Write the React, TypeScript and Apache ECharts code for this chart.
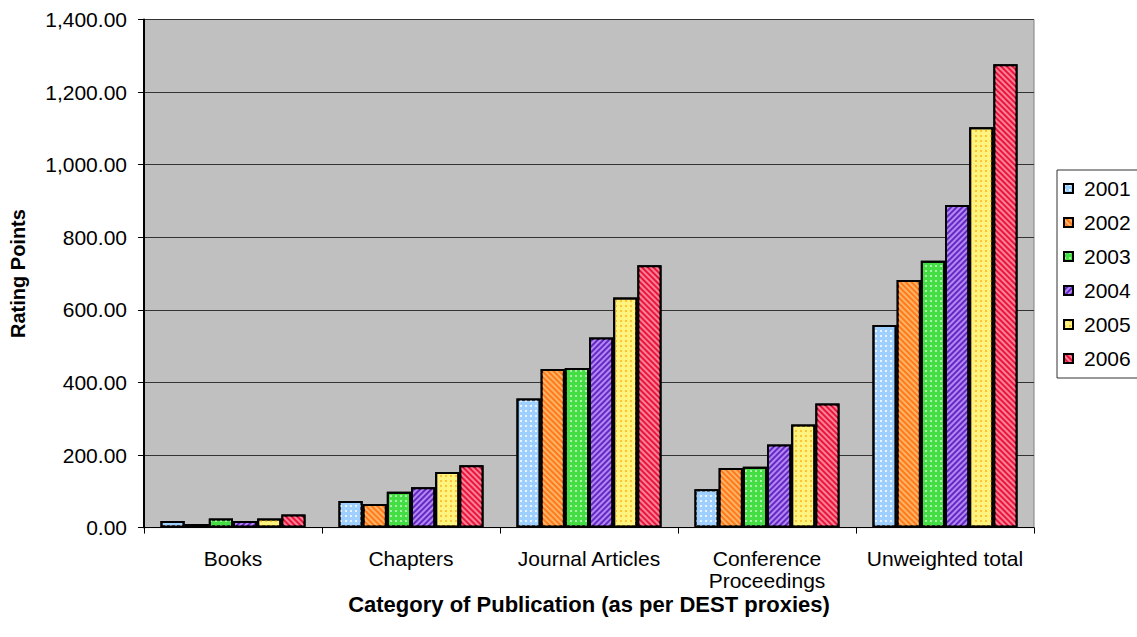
import React, { useEffect, useRef } from "react";
import * as echarts from "echarts";

const categories = ["Books", "Chapters", "Journal Articles", "Conference\nProceedings", "Unweighted total"];
const years = ["2001", "2002", "2003", "2004", "2005", "2006"];

const v2001 = [18, 73, 356, 106, 558];
const v2002 = [10, 65, 437, 164, 682];
const v2003 = [25, 99, 440, 168, 735];
const v2004 = [18, 111, 524, 229, 889];
const v2005 = [25, 153, 634, 284, 1103];
const v2006 = [36, 172, 723, 342, 1277];

const yTicks = { min: 0, max: 1400, interval: 200 };

const FONT = "'Liberation Sans', Arial, sans-serif";

const dots = (color: string) => ({
  symbol: "rect",
  symbolSize: 1,
  color,
  dashArrayX: [2, 3],
  dashArrayY: [2, 3],
});

const stripes = (color: string, rotation: number) => ({
  symbol: "rect",
  symbolSize: 1,
  color,
  dashArrayX: [1, 0],
  dashArrayY: [2, 2],
  rotation,
});

const styles = [
  { color: "#9FCFFF", decal: dots("#E8F4FF") },
  { color: "#FF7A1A", decal: stripes("#FFB366", Math.PI / 4) },
  { color: "#44DD44", decal: dots("#A8F0A8") },
  { color: "#6429C4", decal: stripes("#B488F2", -Math.PI / 4) },
  { color: "#FFF380", decal: dots("#FFC232") },
  { color: "#E8163A", decal: stripes("#FF8099", Math.PI / 4) },
];

const seriesValues = [v2001, v2002, v2003, v2004, v2005, v2006];

export default function App() {
  const ref = useRef<HTMLDivElement>(null);

  useEffect(() => {
    if (!ref.current) return;
    const chart = echarts.init(ref.current, undefined, { renderer: "svg" });
    chart.setOption({
      animation: false,
      backgroundColor: "#FFFFFF",
      textStyle: { fontFamily: FONT },
      grid: {
        left: 144,
        top: 19.5,
        right: 103,
        bottom: 109.4,
        show: true,
        backgroundColor: "#C0C0C0",
        borderColor: "#808080",
        borderWidth: 1,
      },
      legend: {
        orient: "vertical",
        left: 1057,
        top: 170,
        data: years,
        icon: "rect",
        itemWidth: 9,
        itemHeight: 9,
        itemGap: 13,
        padding: [8, 7, 9, 6],
        borderColor: "#333",
        borderWidth: 1,
        backgroundColor: "#FFFFFF",
        textStyle: { fontFamily: FONT, fontSize: 21, color: "#000", lineHeight: 21, padding: [0, 0, 0, 6] },
      },
      xAxis: {
        type: "category",
        data: categories,
        axisLine: { lineStyle: { color: "#000", width: 1 } },
        axisTick: { show: true, length: 6, lineStyle: { color: "#000" } },
        axisLabel: { color: "#000", fontSize: 21, fontFamily: FONT, margin: 20, lineHeight: 22, interval: 0 },
        name: "Category of Publication (as per DEST proxies)",
        nameLocation: "middle",
        nameGap: 66,
        nameMoveOverlap: false,
        nameTextStyle: { color: "#000", fontSize: 22, fontWeight: "bold", fontFamily: FONT },
      },
      yAxis: {
        type: "value",
        min: yTicks.min,
        max: yTicks.max,
        interval: yTicks.interval,
        axisLine: { show: true, lineStyle: { color: "#000", width: 2 } },
        axisTick: { show: true, length: 6, lineStyle: { color: "#000" } },
        axisLabel: {
          color: "#000",
          fontSize: 21,
          fontFamily: FONT,
          margin: 17,
          formatter: (v: number) => v.toLocaleString("en-US", { minimumFractionDigits: 2, maximumFractionDigits: 2 }),
        },
        splitLine: { show: true, lineStyle: { color: "#333", width: 1 } },
        name: "Rating Points",
        nameLocation: "middle",
        nameGap: 116,
        nameMoveOverlap: false,
        nameTextStyle: { color: "#000", fontSize: 20, fontWeight: "bold", fontFamily: FONT },
      },
      series: years.map((y, i) => ({
        name: y,
        type: "bar",
        data: seriesValues[i],
        barGap: "0%",
        barCategoryGap: "18.5%",
        itemStyle: {
          color: styles[i].color,
          decal: styles[i].decal,
          borderColor: "#000",
          borderWidth: 2,
        },
      })),
    });
    return () => chart.dispose();
  }, []);

  return <div ref={ref} style={{ position: "fixed", left: 0, top: 0, width: 1137, height: 637 }} />;
}
